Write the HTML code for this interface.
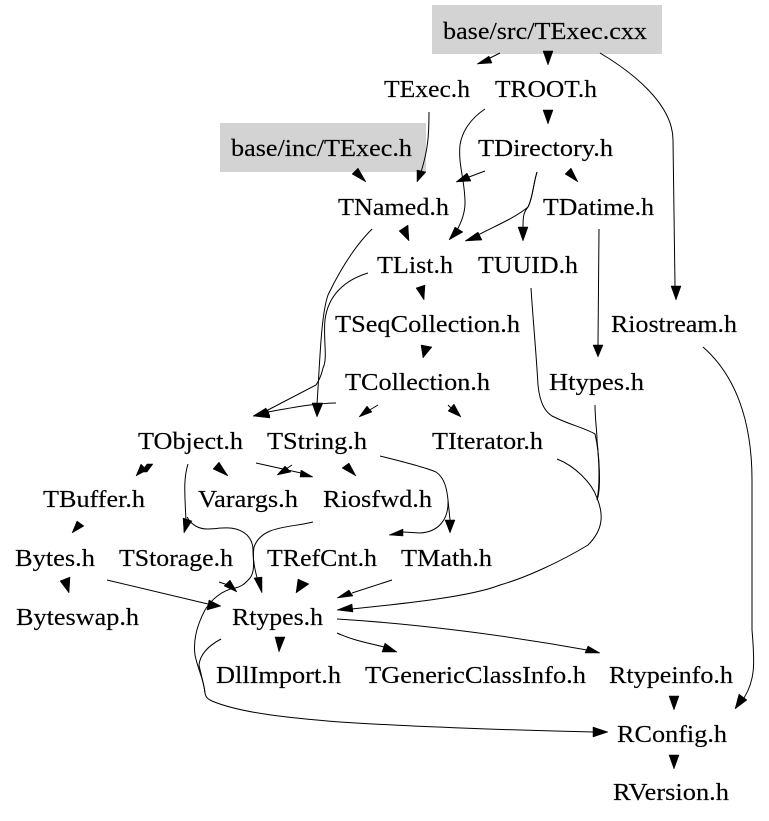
<!DOCTYPE html>
<html>
<head>
<meta charset="utf-8">
<style>
html,body{margin:0;padding:0;background:#fff;width:769px;height:821px;overflow:hidden}
svg{display:block}
text{font-family:"Liberation Serif","Times New Roman",serif;font-size:24px;fill:#000;stroke:#000;stroke-width:.15}
path{fill:none;stroke:#000;stroke-width:1}
polygon{fill:#000;stroke:#000;stroke-width:.5}
</style>
</head>
<body>
<svg width="769" height="821" viewBox="0 0 769 821" xmlns="http://www.w3.org/2000/svg">
<rect x="432" y="5" width="230" height="49" fill="#d3d3d3"/>
<rect x="220" y="123" width="206" height="49" fill="#d3d3d3"/>

<!-- connectors -->
<path d="M500,53 L486,60"/>
<path d="M600,53 C632,72 673,104 673,140 L675,286"/>
<path d="M429,112 C429,135 428,150 421,172"/>
<path d="M485,109 C470,119 462,132 460,145 C458,165 465,180 465,203 C465,215 460,225 456,232"/>
<path d="M485,171 L469,177"/>
<path d="M537,172 C533,185 533,197 528,207 C515,218 495,226 478,235"/>
<path d="M537,172 C533,185 533,197 528,207 C523,213 523,218 523,228"/>
<path d="M599,229 L598,345"/>
<path d="M372,229 C355,246 340,270 328,295 C321,315 320,360 317,404"/>
<path d="M368,273 C345,280 328,295 325,320 C323,340 328,358 323,368 C321,377 318,382 316,385 L266,411"/>
<path d="M336,403 C320,403 300,406 268,412"/>
<path d="M378,405 L368,411"/>
<path d="M448,405 L453,410"/>
<path d="M531,288 C533,320 536,350 538,385 C540,405 546,412 552,416 C570,425 585,428 595,434 C600,455 601,490 597,500"/>
<path d="M595,405 C595,420 597,430 597,440 C600,470 599,490 597,500"/>
<path d="M557,459 C575,466 592,483 597,498 C604,515 603,530 588,545 C560,562 525,578 500,585 C470,597 400,604 352,609"/>
<path d="M703,347 C735,375 752,420 752,480 L752,630 C755,665 755,680 744,698"/>
<path d="M188,464 C183,480 185,495 186,522"/>
<path d="M187,517 C192,526 200,529 207,529 C220,529 235,524 247,535 C252,540 253,545 253,550 C253,556 254,568 258,581"/>
<path d="M256,463 L301,473"/>
<path d="M292,465 L286,469"/>
<path d="M380,456 C400,461 425,467 436,472 C445,478 447,490 448,500 L450,520"/>
<path d="M448,500 C449,520 438,532 420,533 L403,532"/>
<path d="M313,522 C290,528 262,525 254,547 C252,560 256,570 250,578 C244,585 240,587 235,588 C222,590 211,600 205,610 C197,625 193,640 195,655 C198,670 204,680 205,693 C206,698 208,699 212,701 C240,713 290,718 340,722 C400,726 500,730 594,732"/>
<path d="M219,582 L228,585"/>
<path d="M107,580 L208,604"/>
<path d="M392,580 L352,593"/>
<path d="M221,639 C208,646 200,655 199,665 C201,675 204,684 205,693"/>
<path d="M337,633 C352,640 368,643 384,647"/>
<path d="M337,619 C420,624 510,636 587,650"/>

<!-- arrowheads -->
<polygon points="477,64 489,56 492,63"/>
<polygon points="548,65 543,51 553,51"/>
<polygon points="676,300 671,286 681,286"/>
<polygon points="417,182 417,170 426,172"/>
<polygon points="449,240 455,227 463,232"/>
<polygon points="548,124 543,110 553,110"/>
<polygon points="366,182 352,174 358,168"/>
<polygon points="456,182 467,173 471,181"/>
<polygon points="578,182 565,174 571,168"/>
<polygon points="465,241 478,232 482,240"/>
<polygon points="523,241 518,227 528,227"/>
<polygon points="409,241 399,231 408,225"/>
<polygon points="598,357 593,345 603,345"/>
<polygon points="317,417 312,403 323,403"/>
<polygon points="253,416 266,408 270,416"/>
<polygon points="253,416 268,410 270,418"/>
<polygon points="424,300 416,288 425,285"/>
<polygon points="423,358 421,345 432,347"/>
<polygon points="359,417 367,406 372,412"/>
<polygon points="461,417 448,411 454,404"/>
<polygon points="136,476 141,464 147,470"/>
<polygon points="141,472 147,464 153,464 147,472"/>
<polygon points="72,533 77,521 84,526"/>
<polygon points="228,476 213,469 219,462"/>
<polygon points="184,533 183,518 192,521"/>
<polygon points="262,593 254,578 262,577"/>
<polygon points="277,475 285,466 291,472"/>
<polygon points="313,477 300,477 301,470"/>
<polygon points="356,476 342,468 349,463"/>
<polygon points="450,533 445,520 455,520"/>
<polygon points="389,535 403,529 403,536"/>
<polygon points="237,592 224,586 230,580"/>
<polygon points="296,593 298,579 309,584"/>
<polygon points="69,593 60,581 70,577"/>
<polygon points="221,606 207,610 209,600"/>
<polygon points="337,598 349,590 353,596"/>
<polygon points="337,610 352,604 353,612"/>
<polygon points="279,652 275,637 285,637"/>
<polygon points="397,652 382,652 385,643"/>
<polygon points="600,653 585,653 588,646"/>
<polygon points="674,710 669,696 679,696"/>
<polygon points="735,709 739,694 747,700"/>
<polygon points="608,732 593,727 593,737"/>
<polygon points="674,769 669,755 679,755"/>

<!-- labels -->
<text x="443" y="39" textLength="204" lengthAdjust="spacingAndGlyphs">base/src/TExec.cxx</text>
<text x="384" y="97" textLength="86" lengthAdjust="spacingAndGlyphs">TExec.h</text>
<text x="495" y="97" textLength="102" lengthAdjust="spacingAndGlyphs">TROOT.h</text>
<text x="231" y="156" textLength="181" lengthAdjust="spacingAndGlyphs">base/inc/TExec.h</text>
<text x="478" y="156" textLength="135" lengthAdjust="spacingAndGlyphs">TDirectory.h</text>
<text x="338" y="215" textLength="111" lengthAdjust="spacingAndGlyphs">TNamed.h</text>
<text x="543" y="215" textLength="111" lengthAdjust="spacingAndGlyphs">TDatime.h</text>
<text x="377" y="273" textLength="76" lengthAdjust="spacingAndGlyphs">TList.h</text>
<text x="478" y="273" textLength="100" lengthAdjust="spacingAndGlyphs">TUUID.h</text>
<text x="335" y="332" textLength="185" lengthAdjust="spacingAndGlyphs">TSeqCollection.h</text>
<text x="611" y="332" textLength="126" lengthAdjust="spacingAndGlyphs">Riostream.h</text>
<text x="345" y="390" textLength="145" lengthAdjust="spacingAndGlyphs">TCollection.h</text>
<text x="549" y="390" textLength="95" lengthAdjust="spacingAndGlyphs">Htypes.h</text>
<text x="138" y="449" textLength="105" lengthAdjust="spacingAndGlyphs">TObject.h</text>
<text x="267" y="449" textLength="100" lengthAdjust="spacingAndGlyphs">TString.h</text>
<text x="432" y="449" textLength="111" lengthAdjust="spacingAndGlyphs">TIterator.h</text>
<text x="43" y="507" textLength="102" lengthAdjust="spacingAndGlyphs">TBuffer.h</text>
<text x="198" y="507" textLength="100" lengthAdjust="spacingAndGlyphs">Varargs.h</text>
<text x="323" y="507" textLength="109" lengthAdjust="spacingAndGlyphs">Riosfwd.h</text>
<text x="15" y="566" textLength="80" lengthAdjust="spacingAndGlyphs">Bytes.h</text>
<text x="119" y="566" textLength="114" lengthAdjust="spacingAndGlyphs">TStorage.h</text>
<text x="267" y="566" textLength="110" lengthAdjust="spacingAndGlyphs">TRefCnt.h</text>
<text x="401" y="566" textLength="91" lengthAdjust="spacingAndGlyphs">TMath.h</text>
<text x="16" y="625" textLength="123" lengthAdjust="spacingAndGlyphs">Byteswap.h</text>
<text x="232" y="625" textLength="91" lengthAdjust="spacingAndGlyphs">Rtypes.h</text>
<text x="216" y="683" textLength="125" lengthAdjust="spacingAndGlyphs">DllImport.h</text>
<text x="365" y="683" textLength="221" lengthAdjust="spacingAndGlyphs">TGenericClassInfo.h</text>
<text x="609" y="683" textLength="124" lengthAdjust="spacingAndGlyphs">Rtypeinfo.h</text>
<text x="617" y="742" textLength="110" lengthAdjust="spacingAndGlyphs">RConfig.h</text>
<text x="613" y="800" textLength="116" lengthAdjust="spacingAndGlyphs">RVersion.h</text>
</svg>
</body>
</html>
